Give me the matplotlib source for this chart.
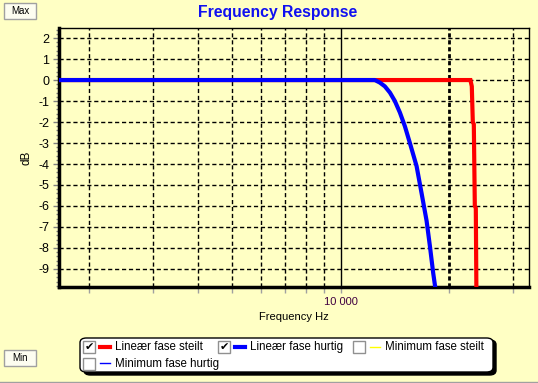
import matplotlib
matplotlib.use("Agg")
import matplotlib.pyplot as plt
from matplotlib.patches import Rectangle, FancyBboxPatch
from matplotlib.lines import Line2D
from matplotlib.ticker import FixedLocator, NullFormatter

plt.rcParams['font.family'] = ['Liberation Sans', 'DejaVu Sans']

# data
steep_f = [1650, 22700, 22900, 23100, 23250, 23400, 23550, 23700, 23800]
steep_db = [0, 0, 0, -0.3, -2.0, -2.1, -6.0, -6.1, -10.5]
fast_f = [1650, 12430, 12830, 13250, 13690, 14125, 14590, 15060, 15550,
          16230, 16760, 17300, 17670, 18050, 18400]
fast_db = [0, 0, -0.12, -0.3, -0.6, -1.0, -1.55, -2.2, -3.0,
           -4.1, -5.4, -6.7, -7.9, -9.2, -10.2]
yticks = [2, 1, 0, -1, -2, -3, -4, -5, -6, -7, -8, -9]
grid_f = [2000, 3000, 4000, 5000, 6000, 7000, 8000, 9000, 20000, 30000]
legend_names = ['Lineær fase steilt', 'Lineær fase hurtig', 'Minimum fase steilt', 'Minimum fase hurtig']
legend_cols = ['#ff0000', '#0000ff', '#ffff00', '#0000ff']
legend_on = [True, True, False, False]

bg = '#ffffc4'
W, H = 538, 383
fig = plt.figure(figsize=(W / 100, H / 100), dpi=100, facecolor=bg)

def fx(px):
    return px / W

def fy(py):
    return 1 - py / H

ax = fig.add_axes([fx(59), fy(287), fx(529 - 59), (287 - 28) / H])
ax.set_facecolor(bg)
ax.set_xscale('log')
ax.set_xlim(1650, 33300)
ax.set_ylim(-9.86, 2.48)

for f in grid_f:
    if f == 20000:
        ax.axvline(f, color='black', lw=2.0, ls=(0, (1.5, 1)), zorder=1)
    else:
        ax.axvline(f, color='black', lw=1.0, ls=(0, (3, 2)), zorder=1)
ax.axvline(10000, color='black', lw=1.0, zorder=1)
for y in yticks:
    ax.axhline(y, color='black', lw=1.0, ls=(0, (3, 2)), zorder=1)

ax.plot(steep_f, steep_db, color='#ff0000', lw=3, zorder=3, solid_joinstyle='miter')
ax.plot(fast_f, fast_db, color='#0000ff', lw=3, zorder=4)

ax.set_yticks(yticks)
ax.set_yticklabels([str(v) for v in yticks], fontsize=9)
ax.yaxis.set_minor_locator(FixedLocator([v / 5 for v in range(-49, 13)]))
ax.tick_params(axis='y', which='major', length=4, width=1, color='#808080', pad=3)
ax.tick_params(axis='y', which='minor', length=2, width=1, color='#808080')
ax.xaxis.set_major_locator(FixedLocator([10000]))
ax.xaxis.set_major_formatter(plt.FuncFormatter(lambda v, p: '10 000'))
ax.xaxis.set_minor_locator(FixedLocator(grid_f))
ax.xaxis.set_minor_formatter(NullFormatter())
ax.tick_params(axis='x', which='both', length=4, width=1, color='#a0a0a0', labelsize=8,
               labelcolor='#400040', pad=3)

for s in ['top', 'right']:
    ax.spines[s].set_linewidth(1)
for s in ['left', 'bottom']:
    ax.spines[s].set_linewidth(2.5)

ax.set_xlabel('Frequency Hz', fontsize=8, labelpad=4)
ax.set_ylabel('dB', fontsize=8.5, labelpad=4)

fig.text(fx(278), fy(12), 'Frequency Response', ha='center', va='center',
         fontsize=11.3, fontweight='bold', color='#1010f0')

# Max / Min buttons
for label, top in [('Max', 3), ('Min', 350)]:
    fig.add_artist(Rectangle((fx(4), fy(top + 16)), fx(32), 16 / H, facecolor='#fdfdf0',
                             edgecolor='#a0a0a0', lw=1))
    fig.text(fx(20), fy(top + 8), label, ha='center', va='center', fontsize=7)

# legend box
fig.add_artist(FancyBboxPatch((fx(84), fy(375)), fx(412), 35 / H,
                              boxstyle='round,pad=0,rounding_size=0.012',
                              facecolor='black', edgecolor='black', lw=1))
fig.add_artist(FancyBboxPatch((fx(80), fy(372)), fx(413), 34 / H,
                              boxstyle='round,pad=0,rounding_size=0.012',
                              facecolor='white', edgecolor='black', lw=1))
pos = [(89, 347), (224, 347), (359, 347), (89, 363.5)]
for (x0, yc), name, col, on in zip(pos, legend_names, legend_cols, legend_on):
    fig.add_artist(Rectangle((fx(x0 - 6), fy(yc + 6)), fx(12), 12 / H, facecolor='white',
                             edgecolor='#909090', lw=1))
    if on:
        fig.text(fx(x0 + 0.5), fy(yc), '✔', ha='center', va='center', fontsize=8,
                 family='DejaVu Sans')
    lw = 3 if on else 1
    fig.add_artist(Line2D([fx(x0 + 11), fx(x0 + 21)], [fy(yc - 0.5), fy(yc - 0.5)], color=col, lw=lw))
    fig.text(fx(x0 + 26), fy(yc), name, ha='left', va='center', fontsize=8.3)

fig.add_artist(Line2D([0, 1], [fy(381.5), fy(381.5)], color='#a0a0a0', lw=1))

fig.savefig('out.png', dpi=100, facecolor=bg)
